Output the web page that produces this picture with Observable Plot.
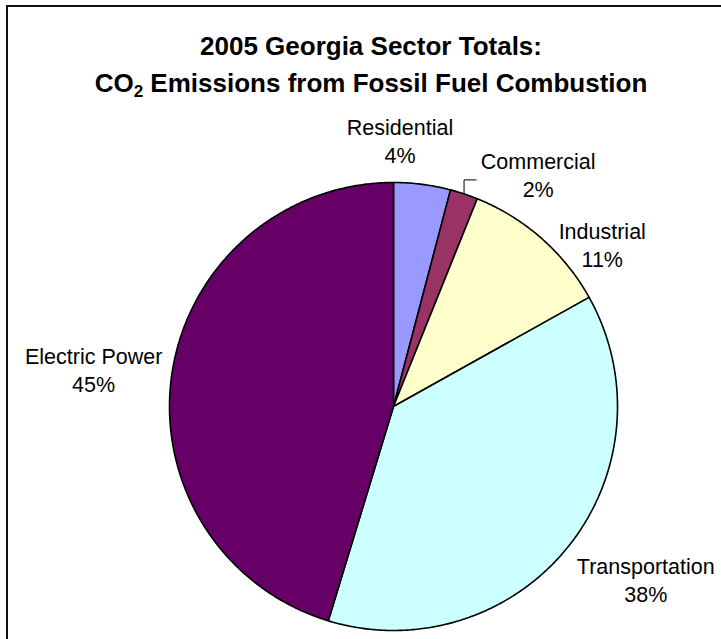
<!DOCTYPE html>
<html>
<head>
<meta charset="utf-8">
<script src="https://cdn.jsdelivr.net/npm/d3@7"></script>
<script src="https://cdn.jsdelivr.net/npm/@observablehq/plot@0.6"></script>
<style>
  html, body { margin: 0; padding: 0; background: #fff; width: 721px; height: 639px; overflow: hidden; }
  #frame { position: absolute; left: 6px; top: 5px; width: 800px; height: 700px;
           border-left: 2px solid #111; border-top: 2px solid #111; }
  #title { position: absolute; left: 0; top: 28px; width: 742px; text-align: center;
           font-family: "Liberation Sans", Arial, sans-serif; font-weight: bold; font-size: 26px;
           line-height: 37px; color: #000; }
  #title .sub { font-size: 17px; vertical-align: -5px; line-height: 0; }
  #chart { position: absolute; left: 0; top: 105px; }
</style>
</head>
<body>
<div id="frame"></div>
<div id="title">2005 Georgia Sector Totals:<br>CO<span class="sub">2</span> Emissions from Fossil Fuel Combustion</div>
<div id="chart"></div>
<script>
// ---- data ----
const sectors = ["Residential", "Commercial", "Industrial", "Transportation", "Electric Power"];
const shares = [4.1, 2.0, 10.8, 37.8, 45.3];
const pctLabels = ["4%", "2%", "11%", "38%", "45%"];
const colors = ["#9999FF", "#993366", "#FFFFCC", "#CCFFFF", "#660066"];

// ---- layout ----
const W = 721, H = 534;
const R = 224;              // pie radius in px
const cx = 393, cy = 301;   // pie centre in px within svg
const labelRadius = 1.2;
const nudgeX = [-28, 60, 31, 43, -34];  // px
const nudgeY = [0, 23, 39, 4, 2];       // px (downwards)

const arcs = d3.pie().sort(null).value(d => d)(shares);

// slice outlines sampled along the arc
const slicePts = [];
arcs.forEach((a, i) => {
  slicePts.push({sector: sectors[i], x: 0, y: 0});
  const n = Math.max(2, Math.ceil((a.endAngle - a.startAngle) / (Math.PI / 360)));
  for (let k = 0; k <= n; k++) {
    const t = a.startAngle + (a.endAngle - a.startAngle) * k / n;
    slicePts.push({sector: sectors[i], x: Math.sin(t), y: Math.cos(t)});
  }
});

// label anchors
const labelData = arcs.map((a, i) => {
  const m = (a.startAngle + a.endAngle) / 2;
  return {
    text: sectors[i] + "\n" + pctLabels[i],
    x: labelRadius * Math.sin(m) + nudgeX[i] / R,
    y: labelRadius * Math.cos(m) - nudgeY[i] / R
  };
});

// leader line for Commercial
const ci = sectors.indexOf("Commercial");
const cm = (arcs[ci].startAngle + arcs[ci].endAngle) / 2;
const p0 = {x: Math.sin(cm), y: Math.cos(cm)};
const leader = [p0, {x: p0.x, y: p0.y + 14 / R}, {x: p0.x + 12 / R, y: p0.y + 14 / R}];

const chart = Plot.plot({
  width: W,
  height: H,
  margin: 0,
  x: {domain: [-1, 1], range: [cx - R, cx + R], axis: null},
  y: {domain: [-1, 1], range: [cy + R, cy - R], axis: null},
  color: {domain: sectors, range: colors},
  style: {fontFamily: "'Liberation Sans', Arial, sans-serif", background: "transparent"},
  marks: [
    Plot.line(slicePts, {x: "x", y: "y", z: "sector", fill: "sector", stroke: "#000",
      strokeWidth: 1.6, curve: "linear-closed", strokeLinejoin: "round"}),
    Plot.line(leader, {x: "x", y: "y", stroke: "#000", strokeWidth: 1}),
    Plot.text(labelData, {x: "x", y: "y", text: "text", fontSize: 21.5, lineHeight: 1.3,
      textAnchor: "middle", fill: "#000"})
  ]
});
document.getElementById("chart").appendChild(chart);
</script>
</body>
</html>
